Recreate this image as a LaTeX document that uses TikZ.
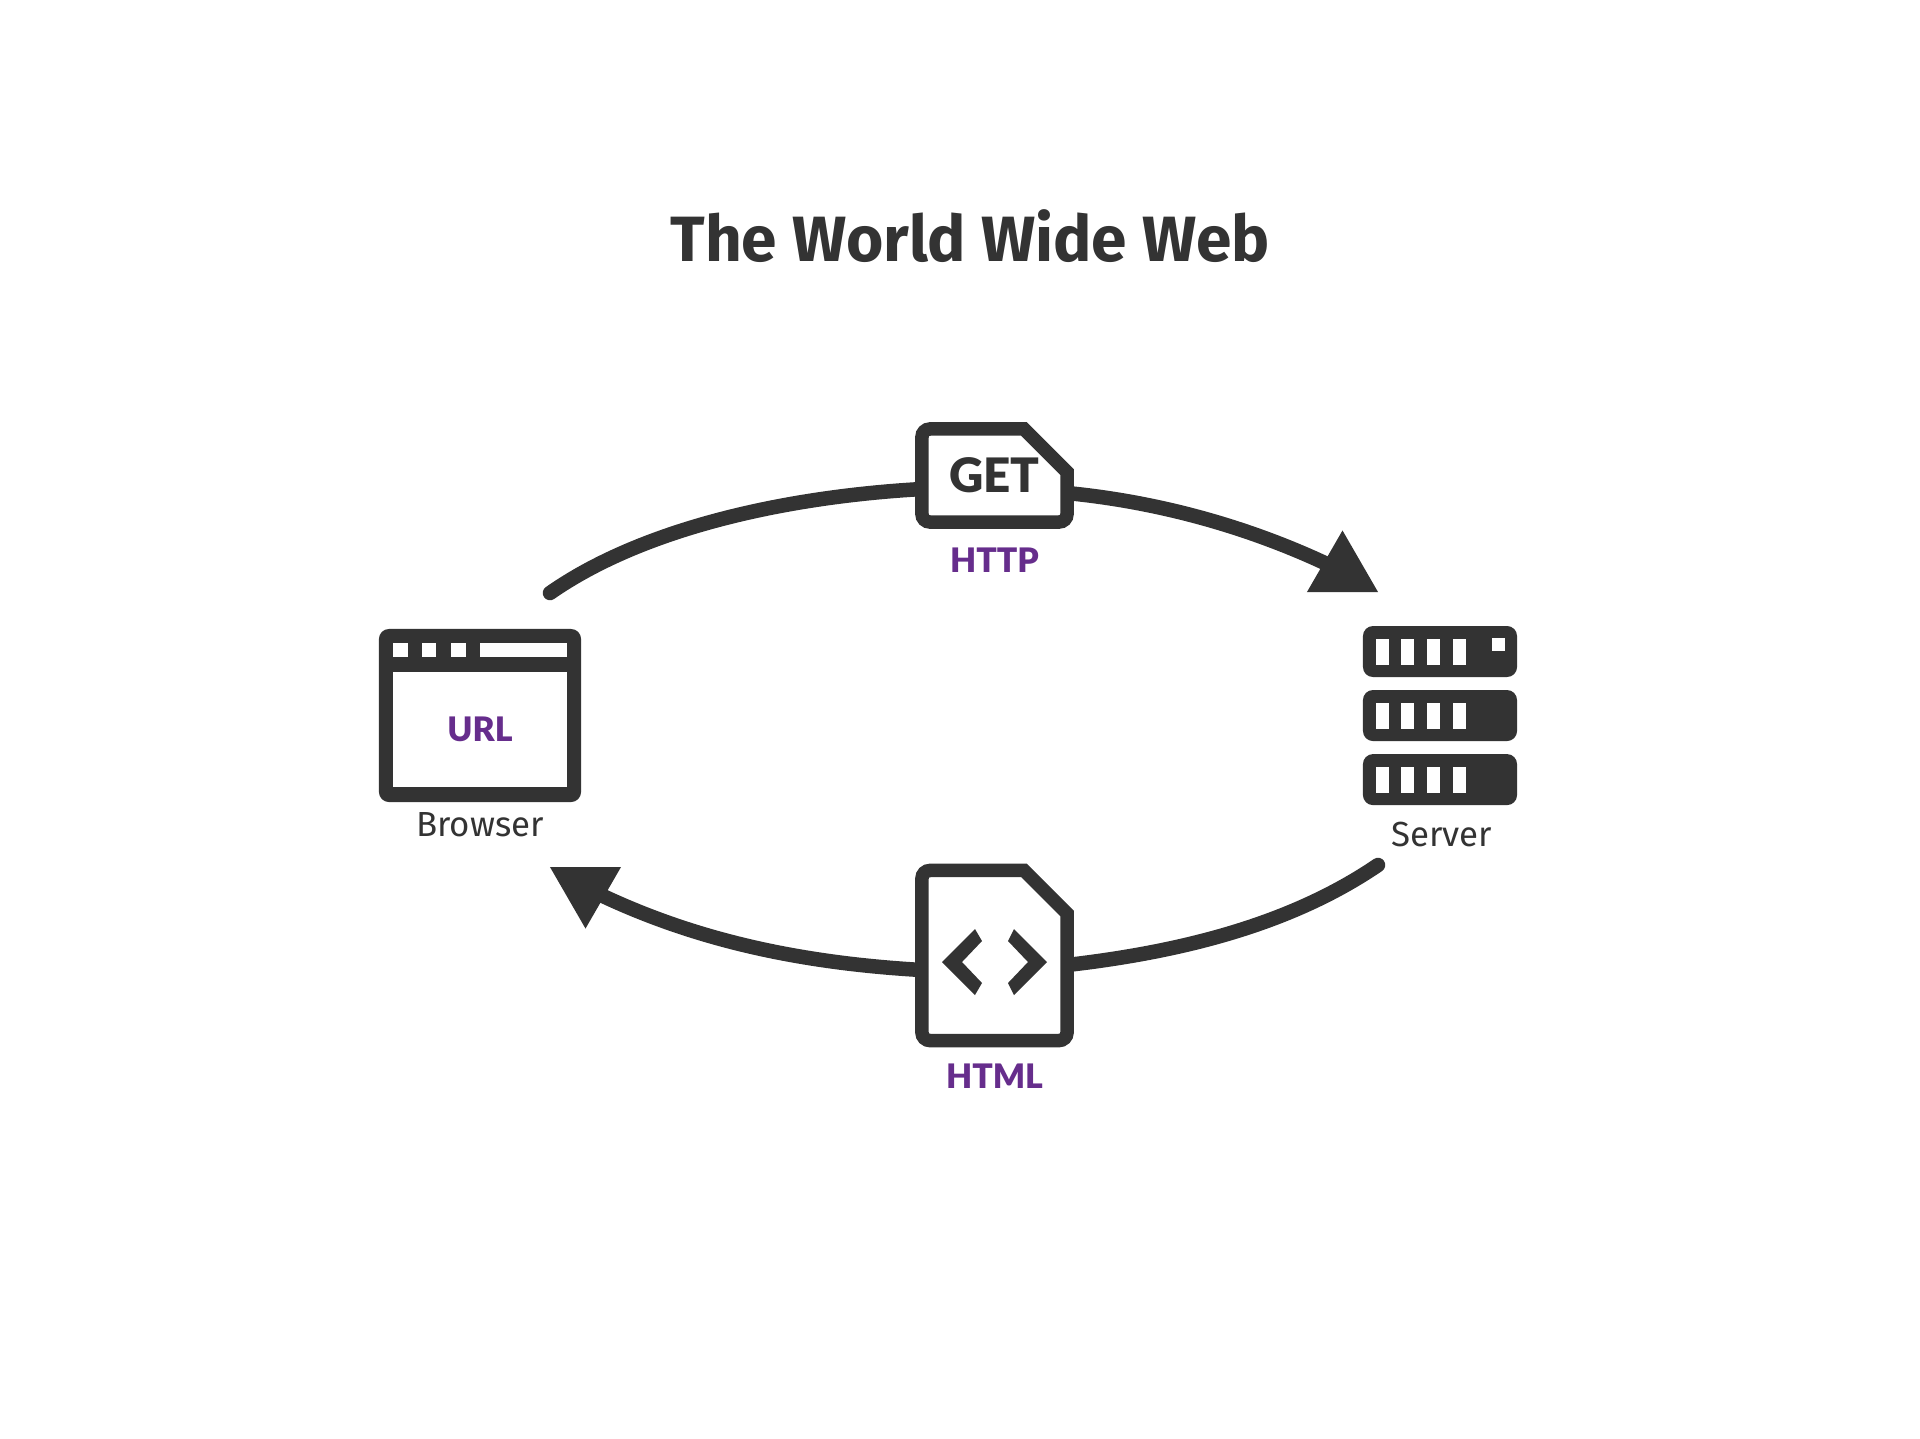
\documentclass[tikz,border=0pt]{standalone}
\usepackage{xcolor}
\usepackage{fontspec}
\setmainfont{Fira Sans}
\newfontface\tagface{Lato Black}
\usepackage{tikz}
\usetikzlibrary{backgrounds,positioning,shapes.geometric}
\definecolor{iconDark}{HTML}{333333}
\definecolor{labelPurple}{HTML}{662D8C}
\begin{document}
\begin{tikzpicture}[
    x=0.01cm,y=-0.01cm,
    every node/.style={inner sep=0pt,outer sep=0pt,text=iconDark},
    docline/.style={draw=iconDark,line width=0.135cm,fill=white,miter limit=10},
    flow/.style={draw=iconDark,line width=0.145cm,line cap=round},
    tip/.style={regular polygon,regular polygon sides=3,fill=iconDark,minimum size=0.82cm},
    darkbox/.style={rectangle,fill=iconDark,rounded corners=0.1cm},
    hole/.style={rectangle,fill=white},
    bar/.style={hole,minimum width=0.13cm,minimum height=0.26cm},
    tab/.style={hole,minimum width=0.145cm,minimum height=0.145cm},
    tag/.style={text=labelPurple,font=\fontsize{9.6pt}{12pt}\tagface},
    caption/.style={font=\fontsize{9.9pt}{12pt}\selectfont}
]
\useasboundingbox (0,0) rectangle (1920,1438);
\node[font=\fontsize{18.2pt}{22pt}\bfseries\selectfont,anchor=base] (title) at (970,261) {The World Wide Web};
% browser
\node[darkbox,minimum width=2.02cm,minimum height=1.73cm] (browser) at (480,715.5) {};
\node[hole,minimum width=1.74cm,minimum height=1.15cm,tag] (pane) at ([yshift=-0.14cm]browser.center) {URL};
\node[tab] (taba) at ([xshift=0.215cm,yshift=-0.21cm]browser.north west) {};
\node[tab] (tabb) at ([xshift=0.50cm,yshift=-0.21cm]browser.north west) {};
\node[tab] (tabc) at ([xshift=0.795cm,yshift=-0.21cm]browser.north west) {};
\node[hole,minimum width=0.87cm,minimum height=0.145cm] (addressbar) at ([xshift=1.445cm,yshift=-0.21cm]browser.north west) {};
\node[caption,below=0.10cm of browser] (browserlabel) {Browser};
% server
\node[darkbox,minimum width=1.54cm,minimum height=0.51cm] (rowa) at (1440,651.5) {};
\node[darkbox,minimum width=1.54cm,minimum height=0.51cm,below=0.13cm of rowa] (rowb) {};
\node[darkbox,minimum width=1.54cm,minimum height=0.51cm,below=0.13cm of rowb] (rowc) {};
\foreach \row in {rowa,rowb,rowc}
    \foreach \x/\n in {0.195/a,0.45/b,0.705/c,0.965/d}
        \node[bar] (\row\n) at ([xshift=\x cm]\row.west) {};
\node[hole,minimum size=0.13cm] (led) at ([xshift=-0.185cm,yshift=0.07cm]rowa.east) {};
\node[caption,below=0.17cm of rowc,xshift=0.015cm] (serverlabel) {Server};
% documents
\node[minimum width=1.45cm,minimum height=0.93cm,font=\fontsize{13.5pt}{16pt}\tagface] (getdoc) at (994.5,475.5) {\raisebox{-0.03cm}{GET}};
\node[tag,below=0.26cm of getdoc] (http) {HTTP};
\node[minimum width=1.45cm,minimum height=1.70cm] (htmldoc) at (994.5,955.5) {};
\node[tag,below=0.235cm of htmldoc] (html) {HTML};
\fill[iconDark] (942,962) -- (975,929) -- (982,941) -- (962,962) -- (982,983) -- (975,995) -- cycle;
\fill[iconDark] (1047,962) -- (1014,929) -- (1008,941) -- (1028,962) -- (1008,983) -- (1014,995) -- cycle;
% arrows
\node[tip] (tipserver) at (1342.5,571.5) {};
\node[tip,shape border rotate=180] (tipbrowser) at (585.5,887.5) {};
\coordinate (browserout) at (550,593);
\coordinate (serverout) at (1378,865);
\begin{scope}[on background layer]
\draw[flow] (browserout) .. controls (640,530) and (780,497) .. ([yshift=-0.135cm]getdoc.west);
\draw[flow] ([yshift=-0.175cm]getdoc.east) .. controls (1160,502) and (1255,528) .. (tipserver.center);
\draw[flow] (serverout) .. controls (1290,925) and (1180,952) .. ([yshift=-0.095cm]htmldoc.east);
\draw[flow] ([yshift=-0.145cm]htmldoc.west) .. controls (800,963) and (690,940) .. (tipbrowser.center);
\foreach \d in {getdoc,htmldoc}
    \draw[docline] ([xshift=-0.43cm]\d.north east) -- ([yshift=-0.43cm]\d.north east)
        [rounded corners=0.08cm] -- (\d.south east) -- (\d.south west) -- (\d.north west) [sharp corners] -- cycle;
\end{scope}
\end{tikzpicture}
\end{document}
